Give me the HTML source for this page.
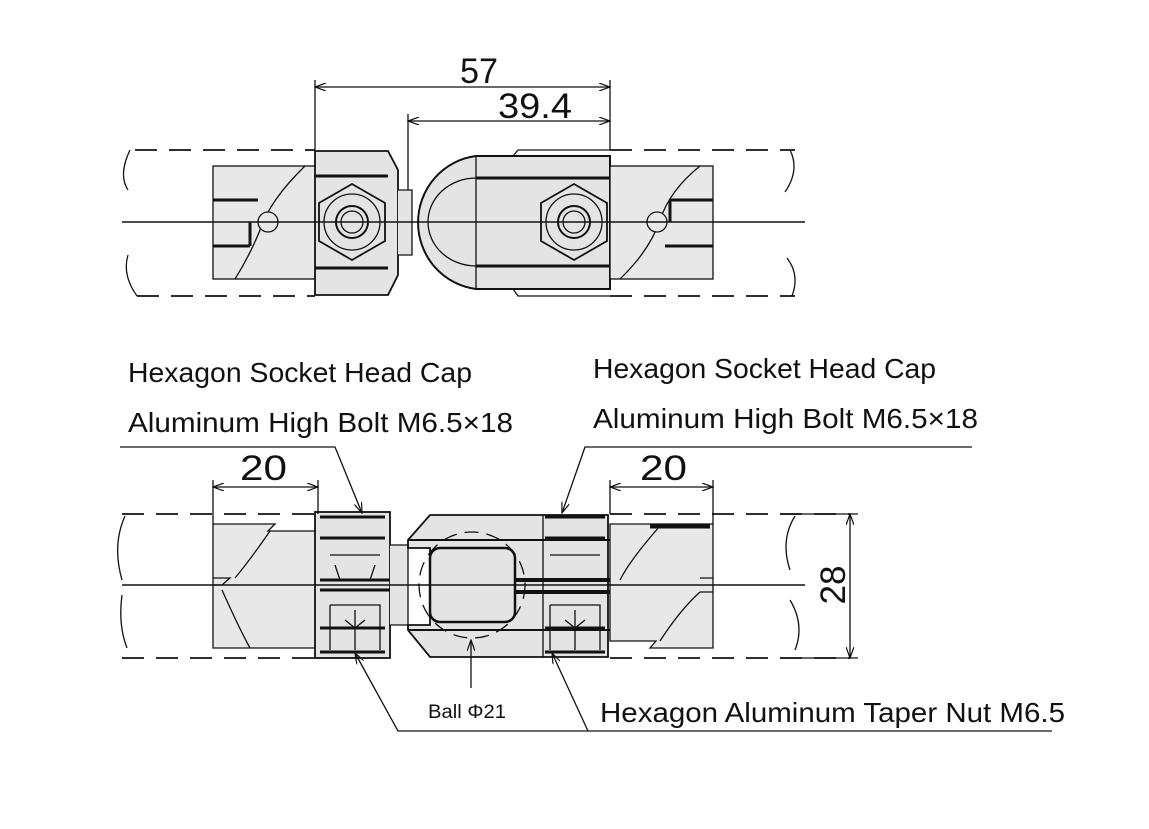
<!DOCTYPE html>
<html><head><meta charset="utf-8"><style>
html,body{margin:0;padding:0;background:#fff}
svg{display:block}
text{font-family:"Liberation Sans",sans-serif;fill:#111}
</style></head><body>
<svg width="1149" height="829" viewBox="0 0 1149 829" xmlns="http://www.w3.org/2000/svg">
<defs>
<marker id="ar" markerWidth="12" markerHeight="8" refX="11" refY="4" orient="auto-start-reverse" markerUnits="userSpaceOnUse">
<path d="M0,0 L11,4 L0,8" fill="none" stroke="#111" stroke-width="1.2"/></marker>
</defs>
<g stroke="#111" fill="none" stroke-width="1.3">
<!-- ===== TOP VIEW ===== -->
<path d="M135,150 H315 M610,150 H795 M137,296 H315 M610,296 H795" stroke-dasharray="22,12" stroke-width="1.8"/>
<path d="M130,150 Q118,175 128,190 M128,255 Q122,275 137,296 M790,150 Q800,170 785,192 M787,258 Q800,275 792,296"/>
<rect x="213" y="166" width="105" height="113" fill="#e8e8e8"/>
<path d="M213,200 H258 M213,246 H250 M250,222 V246" stroke-width="3"/>
<path d="M305,166 Q270,200 260,230 Q250,255 235,279"/>
<circle cx="268" cy="222" r="10" fill="#e8e8e8"/>
<path d="M315,151 H388 L398,170 V275 L388,295 H315 Z" fill="#e4e4e4" stroke-width="1.8"/>
<path d="M315,176 H388 M315,268 H388" stroke-width="3"/>
<path d="M398,190 H412 V255 H398" fill="#e4e4e4"/>
<polygon points="352,184 385,203 385,241 352,260 319,241 319,203" fill="#e4e4e4" stroke-width="1.8"/>
<circle cx="352" cy="222" r="28"/>
<circle cx="352" cy="222" r="16" stroke-width="2"/>
<circle cx="352" cy="222" r="11"/>
<path d="M476,156 H610 V289 H476 A66,67 0 0 1 476,156 Z" fill="#e4e4e4" stroke-width="2"/>
<path d="M476,178 A48,44 0 0 0 476,266" stroke-width="1.3"/>
<line x1="476" y1="156" x2="476" y2="289"/>
<path d="M476,178 H610 M476,266 H610" stroke-width="3"/>
<path d="M513,156 L518,150 H610 M513,289 L518,296 H610"/>
<polygon points="574,184 607,203 607,241 574,260 541,241 541,203" fill="#e4e4e4" stroke-width="1.8"/>
<circle cx="574" cy="222" r="28"/>
<circle cx="574" cy="222" r="16" stroke-width="2"/>
<circle cx="574" cy="222" r="11"/>
<rect x="610" y="166" width="103" height="113" fill="#e8e8e8"/>
<path d="M713,200 H670 M713,246 H665 M670,200 V222" stroke-width="3"/>
<path d="M700,166 Q670,190 660,220 Q650,250 620,279"/>
<circle cx="657" cy="222" r="10" fill="#e8e8e8"/>
<line x1="122" y1="222" x2="805" y2="222" stroke-width="1.5"/>
<path d="M315,80 V150 M610,80 V150 M408,114 V190"/>
<line x1="315" y1="87" x2="610" y2="87" marker-start="url(#ar)" marker-end="url(#ar)"/>
<line x1="408" y1="121" x2="610" y2="121" marker-start="url(#ar)" marker-end="url(#ar)"/>

<!-- ===== BOTTOM VIEW ===== -->
<path d="M122,514 H315 M610,514 H850 M122,658 H315 M610,658 H850" stroke-dasharray="22,12" stroke-width="1.8"/>
<path d="M125,516 Q112,545 122,580 M122,595 Q118,625 127,648 M795,516 Q780,540 790,570 M790,600 Q805,625 795,650"/>
<path d="M213,524 H275 L268,531 H318 V648 H213 Z" fill="#e8e8e8"/>
<path d="M213,578 H230 L222,585 H213" />
<path d="M270,531 Q250,560 235,578 M222,590 Q240,630 250,648"/>
<rect x="315" y="512" width="75" height="146" fill="#e4e4e4" stroke-width="1.8"/>
<path d="M320,517 H385 M320,538 H385 M320,628 H385 M320,652 H385" stroke-width="3"/>
<path d="M320,580 H408 M320,590 H408" stroke-width="3"/>
<path d="M330,555 H380 M335,565 L340,580 M375,565 L370,580 M330,605 H380 V650 M330,605 V650 M355,610 V650 M345,620 L355,628 L365,620"/>
<path d="M390,545 H408 V625 H390" fill="#e4e4e4"/>
<path d="M430,515 H608 V657 H430 L408,630 V625 H430 V548 H408 V540 Z" fill="#e4e4e4" stroke-width="1.8"/>
<rect x="430" y="548" width="85" height="74" rx="10" fill="#e4e4e4" stroke-width="2.5"/>
<path d="M408,540 H610 M408,630 H610" stroke-width="2"/>
<path d="M515,580 H610 M515,592 H610" stroke-width="4"/>
<circle cx="472" cy="585" r="53" stroke-dasharray="14,8"/>
<path d="M545,517 H605 M545,538 H605 M545,628 H605 M545,652 H605" stroke-width="3"/>
<path d="M550,555 H600 M550,605 H600 V650 M550,605 V650 M575,610 V650 M565,620 L575,628 L585,620 M543,515 V657"/>
<path d="M610,524 H713 V648 H650 L656,641 H610 Z" fill="#e8e8e8"/>
<path d="M650,526 H710" stroke-width="5"/>
<path d="M700,578 H713 M700,592 H713 M660,526 Q630,560 620,580 M700,592 Q680,610 660,641"/>
<line x1="122" y1="585" x2="805" y2="585" stroke-width="1.5"/>
<path d="M213,480 V524 M318,480 V514 M610,480 V514 M713,480 V524 M780,514 H858 M780,658 H858"/>
<line x1="213" y1="487" x2="318" y2="487" marker-start="url(#ar)" marker-end="url(#ar)"/>
<line x1="610" y1="487" x2="713" y2="487" marker-start="url(#ar)" marker-end="url(#ar)"/>
<line x1="850" y1="514" x2="850" y2="658" marker-start="url(#ar)" marker-end="url(#ar)"/>
<polyline points="120,447 335,447 362,513" marker-end="url(#ar)"/>
<polyline points="972,447 585,447 562,513" marker-end="url(#ar)"/>
<polyline points="355,653 398,731 1052,731" marker-start="url(#ar)"/>
<line x1="552" y1="653" x2="588" y2="731" marker-start="url(#ar)"/>
<line x1="471" y1="688" x2="471" y2="640" marker-end="url(#ar)"/>
</g>
<g>
<text x="460" y="83" font-size="35" textLength="38" lengthAdjust="spacingAndGlyphs">57</text>
<text x="498" y="118" font-size="35" textLength="74" lengthAdjust="spacingAndGlyphs">39.4</text>
<text x="240" y="480" font-size="35" textLength="47" lengthAdjust="spacingAndGlyphs">20</text>
<text x="640" y="480" font-size="35" textLength="47" lengthAdjust="spacingAndGlyphs">20</text>
<text x="0" y="0" font-size="35" text-anchor="middle" transform="translate(845,585) rotate(-90)">28</text>
<text x="128" y="382" font-size="28" textLength="344" lengthAdjust="spacingAndGlyphs">Hexagon Socket Head Cap</text>
<text x="128" y="432" font-size="28" textLength="385" lengthAdjust="spacingAndGlyphs">Aluminum High Bolt M6.5×18</text>
<text x="593" y="378" font-size="28" textLength="343" lengthAdjust="spacingAndGlyphs">Hexagon Socket Head Cap</text>
<text x="593" y="428" font-size="28" textLength="385" lengthAdjust="spacingAndGlyphs">Aluminum High Bolt M6.5×18</text>
<text x="428" y="718" font-size="19" textLength="78" lengthAdjust="spacingAndGlyphs">Ball Φ21</text>
<text x="600" y="722" font-size="28" textLength="465" lengthAdjust="spacingAndGlyphs">Hexagon Aluminum Taper Nut M6.5</text>
</g>
</svg>
</body></html>
